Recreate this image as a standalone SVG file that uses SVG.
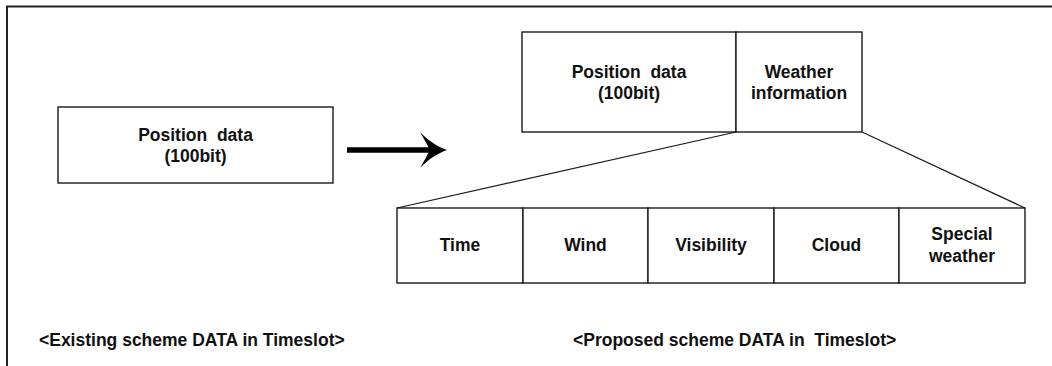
<svg xmlns="http://www.w3.org/2000/svg" width="1052" height="366" viewBox="0 0 1052 366">
  <style>
    .box { fill: #ffffff; stroke: #1a1a1a; stroke-width: 1.4; }
    .lbl { font-family: "Liberation Sans", Arial, sans-serif; font-weight: bold; font-size: 17.5px; fill: #111; text-anchor: middle; white-space: pre; }
    .cap { font-family: "Liberation Sans", Arial, sans-serif; font-weight: bold; font-size: 17.5px; fill: #111; white-space: pre; }
    .thin { stroke: #1a1a1a; stroke-width: 1.2; fill: none; }
  </style>
  <rect width="1052" height="366" fill="#ffffff"/>

  <!-- frame: top and left edges -->
  <path d="M7,366 V6.5 H1052" fill="none" stroke="#222" stroke-width="2"/>

  <!-- existing slot -->
  <g id="existing-position">
    <rect class="box" x="58" y="107" width="275" height="76"/>
    <text class="lbl" x="195.5" y="140.5" xml:space="preserve">Position  data</text>
    <text class="lbl" x="195.5" y="162">(100bit)</text>
  </g>

  <!-- proposed slot -->
  <g id="proposed-position">
    <rect class="box" x="522" y="32" width="214" height="100"/>
    <text class="lbl" x="629" y="77.5" xml:space="preserve">Position  data</text>
    <text class="lbl" x="629" y="98.5">(100bit)</text>
  </g>
  <g id="weather-information">
    <rect class="box" x="736" y="32" width="126" height="100"/>
    <text class="lbl" x="799" y="77.5">Weather</text>
    <text class="lbl" x="799" y="98.5">information</text>
  </g>

  <!-- weather breakdown -->
  <g id="time">
    <rect class="box" x="397" y="208" width="126" height="75"/>
    <text class="lbl" x="460" y="251">Time</text>
  </g>
  <g id="wind">
    <rect class="box" x="523" y="208" width="125" height="75"/>
    <text class="lbl" x="585.5" y="251">Wind</text>
  </g>
  <g id="visibility">
    <rect class="box" x="648" y="208" width="126" height="75"/>
    <text class="lbl" x="711" y="251">Visibility</text>
  </g>
  <g id="cloud">
    <rect class="box" x="774" y="208" width="125" height="75"/>
    <text class="lbl" x="836.5" y="251">Cloud</text>
  </g>
  <g id="special-weather">
    <rect class="box" x="899" y="208" width="126" height="75"/>
    <text class="lbl" x="962" y="240">Special</text>
    <text class="lbl" x="962" y="261.5">weather</text>
  </g>

  <g id="connectors">
    <!-- transition arrow -->
    <line x1="347" y1="150" x2="432" y2="150" stroke="#000" stroke-width="5.5"/>
    <path d="M420,132 C428,140 436,146 447,150 C436,154 428,160 420,168 C424,161 427,156 430,150 C427,144 424,139 420,132 Z" fill="#000"/>
    <!-- expansion lines -->
    <line class="thin" x1="736" y1="132" x2="397" y2="208"/>
    <line class="thin" x1="862" y1="132" x2="1025" y2="208"/>
  </g>

  <g id="captions">
    <text class="cap" x="39" y="346">&lt;Existing scheme DATA in Timeslot&gt;</text>
    <text class="cap" x="573" y="346" xml:space="preserve">&lt;Proposed scheme DATA in  Timeslot&gt;</text>
  </g>
</svg>
